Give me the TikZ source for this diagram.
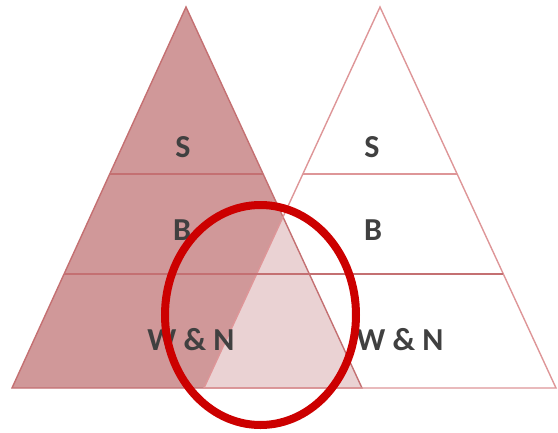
\documentclass[tikz,border=0pt]{standalone}
\usepackage{fontspec}
\setmainfont{Carlito}
\usetikzlibrary{calc}
\definecolor{leftfill}{RGB}{208,152,153}
\definecolor{leftline}{RGB}{196,112,114}
\definecolor{rightline}{RGB}{222,150,152}
\definecolor{ringred}{RGB}{204,0,0}
\definecolor{lbltext}{RGB}{64,64,64}
\begin{document}
\begin{tikzpicture}[x=1pt,y=-1pt,
  lbl/.style={font=\fontsize{32}{32}\selectfont\bfseries, text=lbltext, inner sep=0pt},
  lline/.style={draw=leftline, line width=1.4pt},
  rline/.style={draw=rightline, line width=1.4pt},
  ring/.style={draw=ringred, line width=8pt}]
\useasboundingbox (0,0) rectangle (558,432);
% corners
\coordinate (LA) at (186,7);
\coordinate (LL) at (12,388);
\coordinate (LR) at (362,388);
\coordinate (RA) at (380,7);
\coordinate (RL) at (204,388);
\coordinate (RR) at (556,388);
% level points
\coordinate (L1l) at ($(LA)!0.4383!(LL)$);
\coordinate (L1r) at ($(LA)!0.4383!(LR)$);
\coordinate (L2l) at ($(LA)!0.7008!(LL)$);
\coordinate (R1l) at ($(RA)!0.4383!(RL)$);
\coordinate (R1r) at ($(RA)!0.4383!(RR)$);
\coordinate (R2r) at ($(RA)!0.7008!(RR)$);
% fills
\fill[leftfill] (LA) -- (LL) -- (LR) -- cycle;
\fill[white, opacity=0.57] (RA) -- (RL) -- (RR) -- cycle;
% outlines
\draw[lline] (LA) -- (LL) -- (LR) -- cycle;
\draw[rline] (RA) -- (RL) -- (RR) -- cycle;
\draw[lline] (L1l) -- (L1r);
\draw[rline] (R1l) -- (R1r);
\draw[lline] (L2l) -- (R2r);
% labels
\node[lbl] (ls) at (183,147) {S};
\node[lbl] (lb) at (182,230) {B};
\node[lbl] (lw) at (191,340) {W \& N};
\node[lbl] (rs) at (372,147) {S};
\node[lbl] (rb) at (373,230) {B};
\node[lbl] (rw) at (400,340) {W \& N};
% ring
\draw[ring] (260.5,315) ellipse [x radius=95.5, y radius=110];
\end{tikzpicture}
\end{document}
